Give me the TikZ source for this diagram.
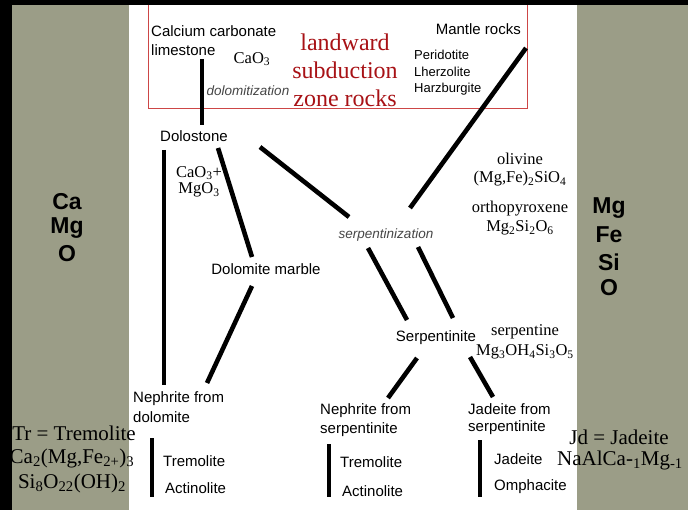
\documentclass[tikz,border=0pt]{standalone}
\usepackage{fontspec}
\setmainfont{Liberation Serif}
\setsansfont{Liberation Sans}
\definecolor{panel}{RGB}{155,157,135}
\definecolor{boxred}{RGB}{205,70,70}
\definecolor{titlered}{RGB}{168,18,22}
\definecolor{itgray}{RGB}{70,70,70}
\begin{document}
\begin{tikzpicture}[x=1pt,y=-1pt,
  sanslbl/.style={font=\sffamily\fontsize{15}{17}\selectfont, inner sep=0pt, anchor=west},
  smallsans/.style={font=\sffamily\fontsize{13}{15}\selectfont, inner sep=0pt, anchor=west},
  itlbl/.style={font=\sffamily\itshape\fontsize{13.5}{16}\selectfont, text=itgray, inner sep=0pt},
  serlbl/.style={font=\fontsize{16.5}{19}\selectfont, inner sep=0pt},
  bigser/.style={font=\fontsize{21}{24}\selectfont, inner sep=0pt},
  redtitle/.style={font=\fontsize{24}{27}\selectfont, text=titlered, inner sep=0pt},
  elem/.style={font=\sffamily\bfseries\fontsize{23}{26}\selectfont, inner sep=0pt},
  conn/.style={line width=4.6pt},
  bar/.style={line width=4pt}]
\useasboundingbox (0,0) rectangle (688,510);
% background panels
\fill[black] (0,0) rectangle (688,510);
\fill[panel] (12,5) rectangle (129,510);
\fill[white] (129,5) rectangle (577,510);
\fill[panel] (577,5) rectangle (688,510);
\draw[boxred, line width=0.9pt] (148,5) -- (148,108) -- (527,108) -- (527,5);

% element columns
\node[elem] (lca) at (67,202) {Ca};
\node[elem] (lmg) at (67,228) {Mg};
\node[elem] (lo)  at (67,254) {O};
\node[elem] (rmg) at (609,208) {Mg};
\node[elem] (rfe) at (609,235) {Fe};
\node[elem] (rsi) at (609,262) {Si};
\node[elem] (ro)  at (609,288) {O};

% top box
\node[sanslbl] (calc) at (151,31) {Calcium carbonate};
\node[sanslbl] (lime) at (151,50) {limestone};
\node[serlbl] (cao) at (252,59) {CaO\textsubscript{3}};
\node[itlbl] (dolz) at (248,91) {dolomitization};
\node[redtitle] (t1) at (345,42) {landward};
\node[redtitle] (t2) at (345,70) {subduction};
\node[redtitle] (t3) at (345,98) {zone rocks};
\node[sanslbl, anchor=east] (mantle) at (521,29) {Mantle rocks};
\node[smallsans] (peri) at (414,55) {Peridotite};
\node[smallsans] (lher) at (414,72) {Lherzolite};
\node[smallsans] (harz) at (414,89) {Harzburgite};

% middle
\node[sanslbl, anchor=center] (dolo) at (194,136) {Dolostone};
\node[serlbl] (camg1) at (199,173) {CaO\textsubscript{3}+};
\node[serlbl] (camg2) at (199,190) {MgO\textsubscript{3}};
\node[sanslbl, anchor=center] (marble) at (266,269) {Dolomite marble};
\node[itlbl] (serpz) at (386,235) {serpentinization};
\node[serlbl] (oliv) at (520,159) {olivine};
\node[serlbl] (olivf) at (520,179) {(Mg,Fe)\textsubscript{2}SiO\textsubscript{4}};
\node[serlbl] (opx) at (520,209) {orthopyroxene};
\node[serlbl] (opxf) at (520,228) {Mg\textsubscript{2}Si\textsubscript{2}O\textsubscript{6}};
\node[sanslbl, anchor=center] (serp) at (436,338) {Serpentinite};
\node[serlbl] (serpn) at (525,332) {serpentine};
\node[serlbl] (serpf) at (525,352) {Mg\textsubscript{3}OH\textsubscript{4}Si\textsubscript{3}O\textsubscript{5}};

% bottom
\node[sanslbl] (nd1) at (133,399) {Nephrite from};
\node[sanslbl] (nd2) at (133,417) {dolomite};
\node[sanslbl] (tr1) at (163,461) {Tremolite};
\node[sanslbl] (ac1) at (165,488) {Actinolite};
\node[sanslbl] (ns1) at (320,411) {Nephrite from};
\node[sanslbl] (ns2) at (320,430) {serpentinite};
\node[sanslbl] (tr2) at (340,462) {Tremolite};
\node[sanslbl] (ac2) at (342,491) {Actinolite};
\node[sanslbl] (js1) at (468,409) {Jadeite from};
\node[sanslbl] (js2) at (468,428) {serpentinite};
\node[sanslbl] (jd) at (494,459) {Jadeite};
\node[sanslbl] (om) at (494,487) {Omphacite};
\node[bigser] (trdef) at (74,433) {Tr = Tremolite};
\node[bigser] (trf1) at (72,458) {Ca\textsubscript{2}(Mg,Fe\textsubscript{2+})\textsubscript{3}};
\node[bigser] (trf2) at (72,483) {Si\textsubscript{8}O\textsubscript{22}(OH)\textsubscript{2}};
\node[bigser] (jddef) at (619,437) {Jd = Jadeite};
\node[bigser] (jdf) at (620,460) {NaAlCa-\textsubscript{1}Mg\textsubscript{-1}};

% connector end points
\coordinate (limeA) at (202,59);   \coordinate (doloA) at (202,125);
\coordinate (mantA) at (526,48);   \coordinate (serpzA) at (410,208);
\coordinate (doloB) at (164,150);  \coordinate (ndB) at (164,385);
\coordinate (doloC) at (218,148);  \coordinate (marbC) at (252,257);
\coordinate (doloD) at (260,147);  \coordinate (serpzD) at (349,217);
\coordinate (marbE) at (252,286);  \coordinate (ndE) at (207,383);
\coordinate (serpzF) at (368,248); \coordinate (serpF) at (407,320);
\coordinate (serpzG) at (418,247); \coordinate (serpG) at (453,318);
\coordinate (serpH) at (417,358);  \coordinate (nsH) at (388,398);
\coordinate (serpI) at (470,357);  \coordinate (jsI) at (493,397);
\coordinate (b1a) at (152,438); \coordinate (b1b) at (152,497);
\coordinate (b2a) at (329,444); \coordinate (b2b) at (329,497);
\coordinate (b3a) at (480,440); \coordinate (b3b) at (480,497);

\draw[conn] (limeA) -- (doloA);
\draw[conn] (mantA) -- (serpzA);
\draw[conn] (doloB) -- (ndB);
\draw[conn] (doloC) -- (marbC);
\draw[conn] (doloD) -- (serpzD);
\draw[conn] (marbE) -- (ndE);
\draw[conn] (serpzF) -- (serpF);
\draw[conn] (serpzG) -- (serpG);
\draw[conn] (serpH) -- (nsH);
\draw[conn] (serpI) -- (jsI);
\draw[bar] (b1a) -- (b1b);
\draw[bar] (b2a) -- (b2b);
\draw[bar] (b3a) -- (b3b);
\end{tikzpicture}
\end{document}
